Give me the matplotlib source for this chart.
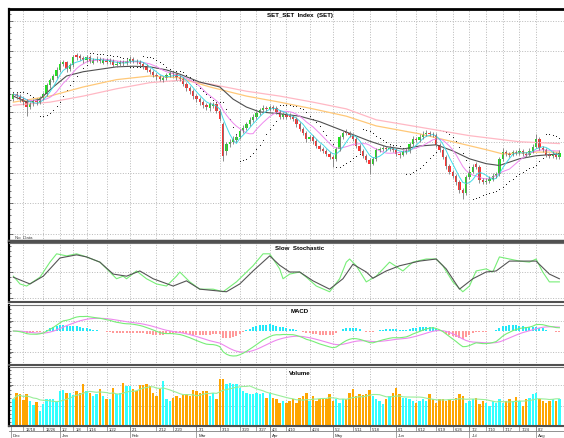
"""SET index daily chart: candles + MAs + SAR, slow stochastic, MACD, volume."""
import numpy as np
import pandas as pd
import matplotlib
matplotlib.use("Agg")
import matplotlib.pyplot as plt
from matplotlib.ticker import MultipleLocator

plt.rcParams["font.family"] = ["Liberation Sans", "DejaVu Sans"]

# daily OHLC (index points), mid Dec -> early Aug
opens = [
    1772, 1779, 1776, 1771, 1768, 1758, 1763, 1768, 1766, 1773,
    1779, 1794, 1802, 1809, 1819, 1829, 1832, 1820, 1827, 1843,
    1842, 1839, 1835, 1840, 1831, 1835, 1837, 1831, 1835, 1832,
    1834, 1827, 1829, 1832, 1830, 1834, 1837, 1834, 1832, 1829,
    1825, 1819, 1816, 1811, 1807, 1802, 1806, 1811, 1814, 1812,
    1807, 1804, 1796, 1789, 1784, 1776, 1771, 1766, 1761, 1756,
    1760, 1763, 1752, 1730, 1685, 1697, 1701, 1704, 1709, 1719,
    1724, 1730, 1737, 1742, 1748, 1753, 1757, 1755, 1758, 1757,
    1750, 1742, 1747, 1745, 1742, 1739, 1730, 1722, 1716, 1706,
    1709, 1702, 1694, 1689, 1686, 1681, 1676, 1673, 1689, 1709,
    1719, 1716, 1712, 1706, 1694, 1686, 1678, 1671, 1665, 1673,
    1688, 1689, 1691, 1689, 1691, 1688, 1681, 1680, 1684, 1686,
    1697, 1706, 1704, 1709, 1714, 1716, 1714, 1712, 1696, 1688,
    1676, 1661, 1652, 1645, 1635, 1622, 1617, 1643, 1652, 1664,
    1660, 1638, 1635, 1637, 1640, 1645, 1648, 1673, 1684, 1681,
    1680, 1684, 1683, 1686, 1681, 1680, 1686, 1693, 1706, 1691,
    1688, 1680, 1678, 1681, 1676,
]
closes = [
    1779, 1776, 1771, 1766, 1758, 1763, 1768, 1766, 1773, 1779,
    1794, 1802, 1809, 1819, 1829, 1832, 1820, 1827, 1840, 1840,
    1839, 1835, 1840, 1834, 1835, 1837, 1834, 1835, 1832, 1834,
    1827, 1829, 1832, 1830, 1834, 1837, 1834, 1832, 1829, 1825,
    1819, 1816, 1811, 1807, 1804, 1806, 1811, 1814, 1812, 1807,
    1804, 1796, 1789, 1784, 1776, 1771, 1766, 1761, 1758, 1763,
    1763, 1752, 1739, 1678, 1697, 1701, 1706, 1709, 1719, 1724,
    1730, 1737, 1742, 1748, 1753, 1757, 1755, 1758, 1757, 1750,
    1742, 1747, 1742, 1742, 1739, 1730, 1722, 1716, 1706, 1709,
    1702, 1694, 1689, 1686, 1681, 1676, 1673, 1689, 1709, 1716,
    1716, 1712, 1706, 1694, 1686, 1678, 1671, 1665, 1673, 1688,
    1689, 1691, 1689, 1691, 1688, 1681, 1680, 1684, 1686, 1697,
    1706, 1704, 1709, 1714, 1716, 1714, 1712, 1696, 1688, 1676,
    1661, 1652, 1645, 1635, 1622, 1617, 1643, 1652, 1660, 1660,
    1638, 1635, 1637, 1640, 1645, 1648, 1673, 1684, 1681, 1680,
    1684, 1683, 1686, 1681, 1680, 1686, 1693, 1706, 1691, 1688,
    1680, 1678, 1681, 1676, 1683,
]
highs = [
    1783, 1782, 1779, 1774, 1771, 1766, 1771, 1771, 1776, 1782,
    1797, 1806, 1813, 1823, 1834, 1836, 1834, 1831, 1844, 1847,
    1845, 1842, 1844, 1843, 1838, 1841, 1840, 1838, 1838, 1838,
    1837, 1833, 1836, 1835, 1838, 1841, 1840, 1837, 1835, 1832,
    1828, 1822, 1819, 1814, 1810, 1809, 1814, 1818, 1817, 1815,
    1810, 1807, 1799, 1792, 1787, 1779, 1774, 1769, 1764, 1766,
    1767, 1766, 1755, 1734, 1700, 1705, 1710, 1713, 1722, 1728,
    1734, 1741, 1746, 1752, 1757, 1761, 1760, 1762, 1761, 1760,
    1753, 1750, 1750, 1748, 1745, 1742, 1733, 1725, 1719, 1712,
    1712, 1705, 1697, 1692, 1689, 1684, 1679, 1692, 1712, 1719,
    1722, 1719, 1715, 1709, 1697, 1689, 1681, 1674, 1676, 1691,
    1693, 1695, 1694, 1695, 1694, 1691, 1684, 1688, 1690, 1700,
    1710, 1709, 1713, 1718, 1720, 1719, 1717, 1715, 1699, 1691,
    1679, 1664, 1655, 1648, 1638, 1625, 1646, 1656, 1664, 1667,
    1663, 1641, 1641, 1644, 1649, 1652, 1676, 1690, 1687, 1684,
    1688, 1687, 1690, 1689, 1684, 1690, 1697, 1714, 1709, 1694,
    1691, 1683, 1685, 1684, 1687,
]
lows = [
    1768, 1772, 1767, 1762, 1743, 1754, 1760, 1762, 1763, 1770,
    1776, 1790, 1799, 1806, 1816, 1825, 1816, 1817, 1824, 1836,
    1835, 1831, 1832, 1830, 1828, 1832, 1830, 1828, 1828, 1829,
    1823, 1824, 1826, 1826, 1827, 1831, 1830, 1828, 1825, 1821,
    1815, 1812, 1807, 1803, 1800, 1799, 1803, 1808, 1808, 1803,
    1800, 1792, 1785, 1780, 1772, 1767, 1762, 1757, 1753, 1752,
    1756, 1748, 1735, 1670, 1680, 1693, 1697, 1700, 1706, 1716,
    1721, 1727, 1734, 1739, 1745, 1750, 1751, 1752, 1753, 1746,
    1738, 1739, 1738, 1738, 1735, 1726, 1718, 1712, 1701, 1702,
    1698, 1690, 1685, 1682, 1677, 1672, 1660, 1670, 1686, 1706,
    1712, 1708, 1702, 1690, 1682, 1674, 1667, 1648, 1662, 1670,
    1684, 1686, 1685, 1686, 1684, 1677, 1675, 1677, 1681, 1683,
    1694, 1700, 1701, 1706, 1711, 1710, 1708, 1692, 1684, 1672,
    1657, 1648, 1641, 1630, 1617, 1607, 1614, 1640, 1649, 1656,
    1633, 1631, 1632, 1634, 1637, 1642, 1645, 1670, 1677, 1676,
    1677, 1679, 1680, 1677, 1676, 1677, 1683, 1690, 1687, 1684,
    1676, 1674, 1675, 1672, 1673,
]
volume = [
    27, 33, 32, 26, 32, 25, 21, 24, 15, 22, 27, 27, 27, 24, 35, 36, 33, 33, 31, 35,
    33, 42, 35, 33, 30, 32, 37, 30, 27, 27, 38, 32, 33, 43, 40, 40, 37, 35, 41, 41,
    42, 40, 33, 30, 37, 45, 27, 25, 28, 30, 28, 31, 32, 30, 36, 35, 33, 35, 35, 30,
    33, 27, 47, 47, 42, 43, 42, 42, 38, 35, 33, 32, 32, 33, 32, 33, 28, 33, 28, 27,
    23, 25, 23, 25, 27, 23, 28, 30, 33, 25, 30, 25, 27, 27, 27, 32, 25, 27, 23, 27,
    27, 33, 37, 30, 32, 31, 32, 36, 30, 27, 25, 22, 27, 30, 33, 38, 32, 28, 28, 27,
    25, 23, 25, 27, 25, 32, 27, 23, 27, 27, 25, 27, 25, 28, 32, 30, 23, 25, 27, 28,
    22, 25, 23, 20, 25, 23, 27, 23, 25, 27, 25, 29, 25, 20, 27, 28, 32, 33, 27, 25,
    23, 25, 27, 25, 27,
]

# longer moving averages, read as sparse points (candle index, level)
ma_black_idx = [0, 4, 8, 12, 16, 21, 26, 31, 36, 41, 46, 50, 56, 62, 66, 70, 74,
                80, 86, 92, 100, 107, 112, 117, 122, 127, 132, 137, 142, 146,
                152, 157, 164]
ma_black = [1776, 1766, 1771, 1791, 1809, 1816, 1820, 1824, 1825, 1824, 1819,
            1812, 1799, 1791, 1771, 1758, 1750, 1747, 1743, 1734, 1717, 1702,
            1693, 1689, 1694, 1696, 1686, 1673, 1665, 1662, 1673, 1678, 1681]
ma_orange_idx = [0, 11, 21, 31, 41, 50, 59, 70, 80, 90, 100, 109, 122, 132, 142,
                 147, 157, 164]
ma_orange = [1766, 1776, 1791, 1803, 1809, 1806, 1791, 1776, 1766, 1755, 1743,
             1727, 1714, 1701, 1688, 1681, 1684, 1684]
ma_pink_idx = [0, 11, 21, 31, 41, 50, 59, 70, 80, 90, 100, 109, 122, 137, 152, 164]
ma_pink = [1761, 1766, 1776, 1788, 1798, 1802, 1796, 1784, 1776, 1766, 1755,
           1737, 1725, 1711, 1701, 1698]

# slow stochastic lines, read as sparse points (candle index, %)
stoch_k_idx = [0, 2, 4, 8, 11, 13, 16, 19, 22, 26, 29, 31, 33, 34, 37, 40, 43,
               46, 49, 50, 53, 56, 60, 63, 67, 72, 75, 77, 80, 81, 83, 86, 88,
               91, 95, 98, 100, 101, 103, 106, 109, 113, 117, 120, 124, 127,
               129, 132, 135, 137, 139, 142, 144, 146, 149, 152, 155, 157, 159,
               161, 164]
stoch_k = [42, 27, 23, 40, 69, 85, 81, 85, 79, 69, 50, 37, 42, 37, 52, 37, 27,
           23, 42, 50, 31, 17, 17, 12, 31, 62, 85, 85, 56, 37, 46, 50, 40, 23,
           12, 37, 69, 75, 62, 31, 42, 69, 52, 69, 75, 75, 62, 31, 12, 23, 52,
           56, 50, 79, 75, 71, 69, 75, 50, 31, 31]
stoch_d_idx = [0, 5, 9, 14, 19, 22, 26, 30, 34, 38, 42, 48, 52, 56, 64, 68, 72,
               77, 80, 83, 86, 90, 95, 99, 102, 106, 108, 112, 116, 122, 127,
               130, 134, 138, 142, 145, 149, 153, 157, 161, 164]
stoch_d = [40, 27, 42, 77, 83, 79, 69, 46, 42, 52, 37, 23, 33, 17, 12, 27, 52,
           81, 63, 50, 50, 33, 17, 37, 65, 50, 38, 52, 62, 71, 75, 56, 17, 37,
           50, 52, 71, 71, 71, 46, 37]

# date axis (candle index of each labelled day)
date_ticks = [3, 9, 14, 18, 22, 28, 35, 43, 48, 55, 62, 68, 73, 77, 82, 89, 96,
              102, 107, 115, 121, 127, 132, 137, 142, 147, 152, 157]
date_labels = ["12/18", "12/26", "1/2", "1/8", "1/16", "1/22", "2/1", "2/12",
               "2/20", "3/1", "3/13", "3/20", "3/27", "4/3", "4/10", "4/24",
               "5/2", "5/11", "5/18", "6/1", "6/12", "6/19", "6/26", "7/2",
               "7/10", "7/17", "7/24", "8/2"]
month_ticks = [-0.8, 14, 35, 55, 77, 96, 115, 137, 157]
month_labels = ["Dec", "Jan", "Feb", "Mar", "Apr", "May", "Jun", "Jul", "Aug"]


def psar(high, low, step=0.02, amax=0.2):
    n = len(high)
    sar = np.zeros(n)
    bull, af, ep = False, step, low[0]
    sar[0] = high[0]
    for i in range(1, n):
        s = sar[i - 1] + af * (ep - sar[i - 1])
        j = max(i - 2, 0)
        if bull:
            s = min(s, low[i - 1], low[j])
            if low[i] < s:
                bull, s, ep, af = False, ep, low[i], step
            elif high[i] > ep:
                ep, af = high[i], min(af + step, amax)
        else:
            s = max(s, high[i - 1], high[j])
            if high[i] > s:
                bull, s, ep, af = True, ep, high[i], step
            elif low[i] < ep:
                ep, af = low[i], min(af + step, amax)
        sar[i] = s
    return sar


o = np.array(opens, float)
c = np.array(closes, float)
h = np.array(highs, float)
l = np.array(lows, float)
v = np.array(volume, float)
n = len(c)
x = np.arange(n)
up = c >= o

cs = pd.Series(c)
ma5 = cs.rolling(5, min_periods=1).mean()
ma10 = cs.rolling(10, min_periods=1).mean()
sar = psar(h, l)

macd = cs.ewm(span=12, adjust=False).mean() - cs.ewm(span=26, adjust=False).mean()
signal = macd.ewm(span=9, adjust=False).mean()
hist = macd - signal

vol_ma = pd.Series(v).rolling(10, min_periods=1).mean()

# layout in pixels of the 564x439 canvas
W, H = 564, 439
fig = plt.figure(figsize=(W / 100, H / 100), dpi=100)
fig.patch.set_facecolor("white")


def panel(top, bottom):
    ax = fig.add_axes([9 / W, 1 - bottom / H, 582 / W, (bottom - top) / H])
    ax.set_xlim(-1.3, 173.5)
    ax.spines["right"].set_visible(False)
    ax.spines["left"].set_color("black")
    ax.spines["left"].set_linewidth(1.6)
    ax.spines["top"].set_color("#707070")
    ax.spines["bottom"].set_color("#505050")
    ax.spines["bottom"].set_linewidth(1.5)
    ax.set_xticks(date_ticks)
    ax.tick_params(axis="x", length=0, labelbottom=False)
    ax.tick_params(axis="y", which="both", direction="in", width=0.5,
                   color="#404040", labelleft=False)
    ax.tick_params(axis="y", which="major", length=3)
    ax.tick_params(axis="y", which="minor", length=1.5)
    ax.grid(True, color="#b8b8b8", linestyle=":", linewidth=0.7)
    ax.set_axisbelow(True)
    return ax


GREEN = "#22e022"
RED = "#ff3333"
CYAN = "#33ffff"
ORANGE = "#ffa500"
LGREEN = "#77ee77"
VIOLET = "#ee88ee"
TFONT = dict(fontsize=4.4, fontweight="bold", ha="center", va="center")

# price panel
ax1 = panel(10, 242)
ax1.spines["top"].set_color("black")
ax1.spines["top"].set_linewidth(2)
ax1.spines["bottom"].set_linewidth(2.5)
ax1.set_ylim(1538, 1919)
ax1.set_yticks(np.arange(1550, 1901, 50))
ax1.yaxis.set_minor_locator(MultipleLocator(10))
ax1.plot(ma_pink_idx, ma_pink, color="#ffb8c4", lw=0.9)
ax1.plot(ma_orange_idx, ma_orange, color="#ffc878", lw=0.9)
ax1.plot(ma_black_idx, ma_black, color="#505050", lw=0.8)
ax1.plot(x, ma10, color=VIOLET, lw=0.7)
ax1.plot(x, ma5, color="#44dde8", lw=0.7)
ax1.vlines(x, l, h, color="#7a7a7a", lw=0.6)
body = np.maximum(np.abs(c - o), 1.0)
ax1.bar(x, body, bottom=np.minimum(o, c), width=0.7,
        color=np.where(up, GREEN, RED), linewidth=0)
ax1.scatter(x, sar, s=0.6, color="black", linewidths=0)
ax1.text(0.5, 0.978, "SET_SET  Index  (SET)", transform=ax1.transAxes, **TFONT)
ax1.text(0.011, 0.016, "No  Data", transform=ax1.transAxes, fontsize=3.2,
         color="#404040", ha="left", va="center")

# slow stochastic
ax2 = panel(244, 303)
ax2.set_ylim(-7.7, 105.8)
ax2.set_yticks([0, 50])
ax2.yaxis.set_minor_locator(MultipleLocator(10))
ax2.plot(stoch_k_idx, stoch_k, color=LGREEN, lw=0.8)
ax2.plot(stoch_d_idx, stoch_d, color="#555555", lw=0.8)
ax2.text(0.5, 0.93, "Slow  Stochastic", transform=ax2.transAxes, **TFONT)

# MACD
ax3 = panel(306, 366)
u = max(macd.max() / 17, -macd.min() / 25)
ax3.set_ylim(-34 * u, 26 * u)
ax3.set_yticks([-21 * u, 10 * u])
ax3.yaxis.set_minor_locator(MultipleLocator(max(round(u * 4), 1)))
ax3.bar(x, hist, width=0.6, color=np.where(hist >= 0, "#22e8f8", "#ff9a9a"),
        linewidth=0)
ax3.plot(x, signal, color=VIOLET, lw=0.8)
ax3.plot(x, macd, color=LGREEN, lw=0.8)
ax3.text(0.5, 0.915, "MACD", transform=ax3.transAxes, **TFONT)

# volume
ax4 = panel(368, 427)
ax4.set_ylim(0, 59)
ax4.set_yticks([20, 41])
ax4.yaxis.set_minor_locator(MultipleLocator(4))
ax4.bar(x, v, width=0.72, color=np.where(up, CYAN, ORANGE), linewidth=0)
ax4.plot(x, vol_ma, color="#99ee99", lw=0.8)
ax4.text(0.5, 0.9, "Volume", transform=ax4.transAxes, **TFONT)

# date strip under the volume panel
tr = ax4.get_xaxis_transform()
ax4.plot([0, 1], [-0.09, -0.09], transform=ax4.transAxes, color="#808080",
         lw=0.6, clip_on=False)
for t, lab in zip(date_ticks, date_labels):
    ax4.plot([t, t], [0, -0.09], transform=tr, color="#808080", lw=0.5,
             clip_on=False)
    ax4.text(t + 0.6, -0.05, lab, transform=tr, fontsize=3, color="#303030",
             ha="left", va="center", clip_on=False)
for t, lab in zip(month_ticks, month_labels):
    ax4.plot([t, t], [0, -0.2], transform=tr, color="#808080", lw=0.5,
             clip_on=False)
    ax4.text(t + 0.6, -0.15, lab, transform=tr, fontsize=3.2, color="#303030",
             ha="left", va="center", clip_on=False)

fig.savefig("out.png", dpi=100)
